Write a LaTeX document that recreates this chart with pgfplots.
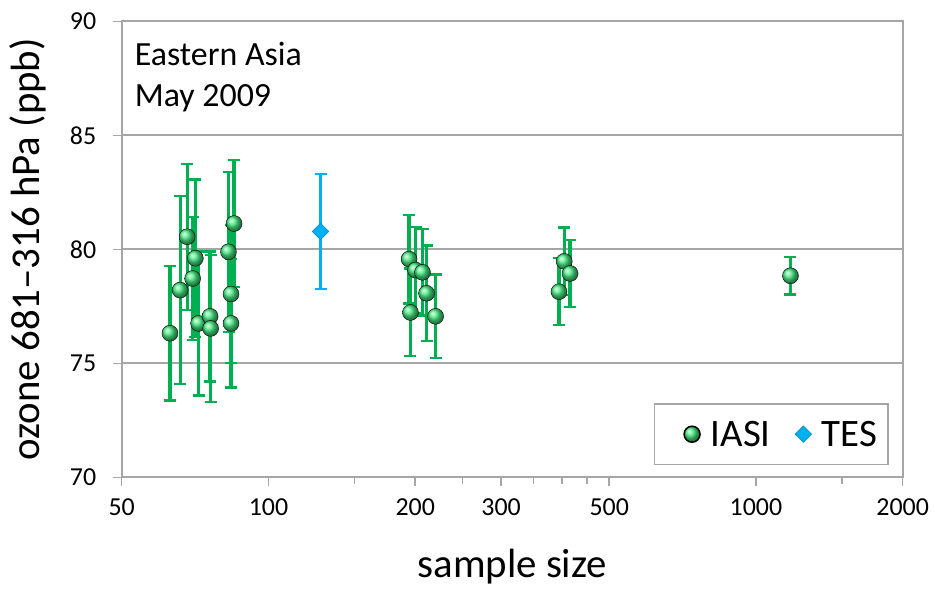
\documentclass[border=0pt]{standalone}
\usepackage{fontspec}
\setmainfont{Carlito}
\usepackage{pgfplots}
\pgfplotsset{compat=1.18}

\definecolor{axgray}{RGB}{166,166,166}
\definecolor{iasigreen}{RGB}{0,176,80}
\definecolor{iasiball}{RGB}{70,235,130}
\definecolor{tesblue}{RGB}{0,176,240}

\begin{document}
\begin{tikzpicture}
\begin{axis}[
  scale only axis,
  width=781bp, height=456bp,
  xmode=log,
  xmin=50, xmax=2000,
  ymin=70, ymax=90,
  xtick={50,100,200,300,500,1000,2000},
  xticklabels={50,100,200,300,500,1000,2000},
  minor xtick={150,250,350,400,450,1500},
  ytick={70,75,80,85,90},
  tick pos=left,
  tick align=outside,
  major tick length=9bp,
  minor tick length=7bp,
  tick style={draw=axgray, line width=1.5bp},
  axis line style={draw=axgray, line width=2bp},
  ymajorgrids,
  major grid style={draw=axgray, line width=2bp},
  /pgf/number format/assume math mode=true,
  ticklabel style={font=\fontsize{26}{30}\selectfont},
  xticklabel style={yshift=-9bp},
  yticklabel style={xshift=-13bp},
  xlabel={sample size},
  ylabel={ozone 681–316 hPa (ppb)},
  label style={font=\fontsize{41}{46}\selectfont},
  xlabel style={at={(axis description cs:0.5,-0.195)}, anchor=center},
  ylabel style={at={(axis description cs:-0.1204,0.5)}, anchor=center},
  legend columns=2,
  legend style={at={(1,0)}, anchor=south east, xshift=-14bp, yshift=12bp,
    draw=axgray, line width=1.5bp, font=\fontsize{39}{42}\selectfont,
    inner xsep=9bp, inner ysep=15bp,
    /tikz/every odd column/.append style={column sep=8bp},
    /tikz/every even column/.append style={column sep=2bp}},
  legend image code/.code={\path (-18bp,0pt); \draw[#1] plot coordinates {(0.35cm,0cm)};},
  error bars/y dir=both,
  error bars/y explicit,
  error bars/error mark=|,
]
% IASI samples
\addplot[only marks, mark=ball, mark size=8bp,
  mark options={ball color=iasiball, draw=none},
  error bars/error bar style={draw=iasigreen, line width=3.2bp},
  error bars/error mark options={draw=iasigreen, line width=2.4bp, mark size=6bp}]
  coordinates {
  (62.8,76.32) +- (0,2.95)
  (65.9,78.21) +- (0,4.13)
  (68.1,80.55) +- (0,3.20)
  (69.9,78.72) +- (0,2.70)
  (70.8,79.61) +- (0,3.45)
  (71.9,76.75) +- (0,3.16)
  (75.9,77.06) +- (0,2.85)
  (76.1,76.53) +- (0,3.23)
  (82.8,79.89) +- (0,3.51)
  (83.8,78.04) +- (0,3.02)
  (83.8,76.75) +- (0,2.82)
  (85.0,81.13) +- (0,2.79)
  (194.3,79.57) +- (0,1.94)
  (195.6,77.23) +- (0,1.92)
  (200.3,79.09) +- (0,1.90)
  (207.0,78.99) +- (0,1.90)
  (211.0,78.07) +- (0,2.10)
  (220.2,77.06) +- (0,1.83)
  (394.5,78.14) +- (0,1.47)
  (404.3,79.47) +- (0,1.48)
  (415.6,78.94) +- (0,1.48)
  (1177,78.84) +- (0,0.82)
  };
\addlegendentry{IASI}
% TES sample
\addplot[only marks, mark=square*, mark size=5.8bp,
  mark options={fill=tesblue, draw=tesblue!80!black, line width=0.6bp, rotate=45},
  error bars/error bar style={draw=tesblue, line width=3.2bp},
  error bars/error mark options={draw=tesblue, line width=2.4bp, mark size=6bp, rotate=0}]
  coordinates {
  (127.9,80.78) +- (0,2.52)
  };
\addlegendentry{TES}
\node[anchor=north west, align=left, inner sep=0pt,
  font=\fontsize{34}{41}\selectfont]
  at (rel axis cs:0,1) [xshift=13bp, yshift=-21bp] {Eastern Asia\\May 2009};
\coordinate (sw) at (rel axis cs:0,0);
\end{axis}
\path (sw) ++(-121.7bp,-112.7bp) rectangle ++(935bp,590bp);
\end{tikzpicture}
\end{document}
